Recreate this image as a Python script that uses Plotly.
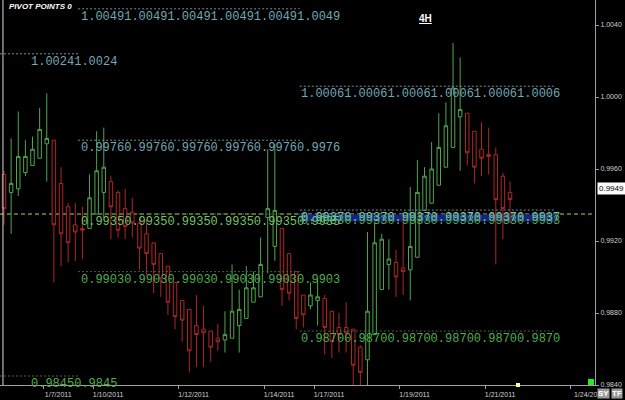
import plotly.graph_objects as go

# ---- 4H candles (EUR/CHF-like) ----
opens = [0.9957, 0.9947, 0.9949, 0.9958, 0.9962, 0.9966, 0.9974, 0.9976, 0.9952, 0.9939,
         0.9929, 0.9927, 0.9927, 0.9935, 0.9947, 0.9953, 0.9947, 0.9938, 0.9936, 0.9930,
         0.9924, 0.9919, 0.9913, 0.9906, 0.9897, 0.9887, 0.9882, 0.9873, 0.9871, 0.9870,
         0.9866, 0.9865, 0.9866, 0.9873, 0.9877, 0.9886, 0.9889, 0.9933, 0.9917, 0.9927,
         0.9913, 0.9903, 0.9890, 0.9884, 0.9887, 0.9888, 0.9881, 0.9872, 0.9872, 0.9871,
         0.9861, 0.9854, 0.9868, 0.9893, 0.9907, 0.9908, 0.9905, 0.9904, 0.9911, 0.9937,
         0.9941, 0.9951, 0.9961, 0.9972, 0.9989, 0.9991, 0.9981, 0.9971, 0.9968, 0.9968,
         0.9956, 0.9947]
highs = [0.9959, 0.9977, 0.9992, 0.9976, 0.9978, 0.9994, 1.0002, 0.9976, 0.9961, 0.9941,
         0.9941, 0.9939, 0.9957, 0.9981, 0.9983, 0.9956, 0.9948, 0.9949, 0.9944, 0.9933,
         0.9932, 0.9919, 0.9913, 0.9906, 0.9897, 0.9887, 0.9882, 0.9890, 0.9884, 0.9870,
         0.9874, 0.9881, 0.9907, 0.9893, 0.9906, 0.9903, 0.9922, 0.9971, 0.9974, 0.9927,
         0.9913, 0.9903, 0.9890, 0.9897, 0.9899, 0.9890, 0.9881, 0.9880, 0.9886, 0.9871,
         0.9862, 0.9925, 0.9930, 0.9924, 0.9921, 0.9915, 0.9932, 0.9950, 0.9965, 0.9961,
         0.9975, 0.9991, 0.9997, 1.0030, 1.0022, 0.9991, 0.9981, 0.9986, 0.9983, 0.9972,
         0.9958, 0.9953]
lows = [0.9929, 0.9924, 0.9945, 0.9956, 0.9962, 0.9966, 0.9953, 0.9897, 0.9906, 0.9908,
        0.9909, 0.9910, 0.9927, 0.9935, 0.9933, 0.9921, 0.9922, 0.9921, 0.9922, 0.9904,
        0.9901, 0.9891, 0.9889, 0.9879, 0.9871, 0.9864, 0.9847, 0.9850, 0.9850, 0.9853,
        0.9859, 0.9858, 0.9866, 0.9858, 0.9877, 0.9886, 0.9889, 0.9902, 0.9909, 0.9884,
        0.9887, 0.9871, 0.9872, 0.9882, 0.9873, 0.9857, 0.9855, 0.9858, 0.9858, 0.9839,
        0.9839, 0.9840, 0.9868, 0.9893, 0.9893, 0.9889, 0.9890, 0.9887, 0.9911, 0.9937,
        0.9941, 0.9951, 0.9961, 0.9972, 0.9959, 0.9962, 0.9952, 0.9956, 0.9957, 0.9907,
        0.9921, 0.9930]
closes = [0.9938, 0.9952, 0.9967, 0.9967, 0.9971, 0.9982, 0.9977, 0.9929, 0.9924, 0.9919,
          0.9925, 0.9926, 0.9944, 0.9959, 0.9961, 0.9939, 0.9926, 0.9928, 0.9930, 0.9916,
          0.9913, 0.9907, 0.9899, 0.9886, 0.9878, 0.9876, 0.9859, 0.9868, 0.9869, 0.9861,
          0.9864, 0.9868, 0.9881, 0.9882, 0.9894, 0.9894, 0.9907, 0.9938, 0.9937, 0.9893,
          0.9891, 0.9877, 0.9879, 0.9890, 0.9889, 0.9872, 0.9864, 0.9868, 0.9869, 0.9851,
          0.9847, 0.9881, 0.9919, 0.9921, 0.9910, 0.9900, 0.9903, 0.9917, 0.9947, 0.9956,
          0.9960, 0.9972, 0.9984, 1.0005, 0.9993, 0.9969, 0.9961, 0.9966, 0.9967, 0.9943,
          0.9938, 0.9943]
bars = list(range(len(opens)))

date_ticks = [5.5, 12.5, 24.5, 36.5, 43.5, 55.5, 67.5, 79.5]
date_labels = ["1/7/2011", "1/10/2011", "1/12/2011", "1/14/2011",
               "1/17/2011", "1/19/2011", "1/21/2011", "1/24/20"]
price_ticks = [0.9840, 0.9880, 0.9920, 0.9960, 1.0000, 1.0040]
current_price = 0.9949

# pivot point segments (start bar, end bar, label start bar, label repeats)
seg_start = [-0.56, 10.4, 41.5]
seg_end = [10.4, 41.5, 77.3]
seg_label_at = [3.65, 10.66, 41.5]
seg_repeats = [2, 6, 6]
# levels per segment: (value, kind)
seg_levels = [
    [(1.0024, "r"), (0.9845, "s")],
    [(1.0049, "r"), (0.9976, "r"), (0.9935, "p"), (0.9903, "s")],
    [(1.0006, "r"), (0.9870, "s")],
]
band_cyan = "0.9937"
band_green = "0.9933"
main_pivot = 0.9935

X0, X1 = -0.561, 82.92
Y0, Y1 = 0.9840, 1.00539

CYAN = "#72a9b8"
GREEN = "#4fae4f"
LIME = "#72c46a"
LABEL_FONT = "Liberation Mono"

fig = go.Figure()
fig.add_trace(go.Candlestick(
    x=bars, open=opens, high=highs, low=lows, close=closes,
    increasing=dict(line=dict(color="#4ea64e", width=1), fillcolor="black"),
    decreasing=dict(line=dict(color="#b02626", width=1), fillcolor="black"),
    whiskerwidth=0, hoverinfo="skip", showlegend=False,
))

shapes = []
annotations = []

# full width main pivot dashed line
shapes.append(dict(type="line", xref="paper", yref="y", x0=0, x1=1,
                   y0=main_pivot, y1=main_pivot,
                   line=dict(color="#b0dc4a", width=1, dash="4px,3px"), layer="below"))

# blue highlight band of the third segment
shapes.append(dict(type="rect", xref="x", yref="y", x0=seg_start[2], x1=seg_end[2] + 0.3,
                   y0=0.99308, y1=0.99348, fillcolor="#17237e", line=dict(width=0),
                   layer="below"))
shapes.append(dict(type="line", xref="x", yref="y", x0=seg_start[2], x1=seg_end[2],
                   y0=0.99372, y1=0.99372, line=dict(color="#7a8a8a", width=1, dash="2px,2px")))
annotations.append(dict(x=seg_label_at[2], y=0.99372, xref="x", yref="y", xanchor="left",
                        yanchor="top", yshift=-1, height=12, borderpad=0,
                        text=band_cyan * 6, showarrow=False,
                        font=dict(family=LABEL_FONT, size=12, color="#7fc0c8")))
annotations.append(dict(x=seg_label_at[2], y=0.99372, xref="x", yref="y", xanchor="left",
                        yanchor="top", yshift=-4, height=12, borderpad=0,
                        text=band_green * 6, showarrow=False,
                        font=dict(family=LABEL_FONT, size=12, color=GREEN)))

for i in range(3):
    for val, kind in seg_levels[i]:
        col = CYAN if kind == "r" else (LIME if kind == "p" else GREEN)
        lcol = "#7c8c8c" if kind == "r" else "#4e5e4e"
        shapes.append(dict(type="line", xref="x", yref="y", x0=seg_start[i], x1=seg_end[i],
                           y0=val, y1=val, line=dict(color=lcol, width=1, dash="2px,2px")))
        txt = ("%.4f" % val) * seg_repeats[i]
        annotations.append(dict(x=seg_label_at[i], y=val, xref="x", yref="y", xanchor="left",
                                yanchor="top", yshift=-1, height=12, borderpad=0,
                                text=txt, showarrow=False,
                                font=dict(family=LABEL_FONT, size=12, color=col)))

# left white border
shapes.append(dict(type="line", xref="paper", yref="paper", x0=0.005, x1=0.005, y0=0, y1=1,
                   line=dict(color="#d8d8d8", width=1)))
# small markers at the bottom
shapes.append(dict(type="rect", xref="paper", yref="paper", x0=588 / 595, x1=594 / 595,
                   y0=0.0, y1=6 / 385, fillcolor="#22ee22", line=dict(width=0)))
shapes.append(dict(type="rect", xref="paper", yref="paper", x0=516 / 595, x1=520 / 595,
                   y0=-2 / 385, y1=2 / 385, fillcolor="#ffff88", line=dict(width=0)))

# texts
annotations.append(dict(x=7 / 595, y=1 - 6 / 385, xref="paper", yref="paper", xanchor="left",
                        yanchor="middle", text="<b><i>PIVOT POINTS 0</i></b>", showarrow=False,
                        font=dict(family="Liberation Sans", size=8, color="white")))
annotations.append(dict(x=425 / 595, y=1 - 18 / 385, xref="paper", yref="paper",
                        xanchor="center", yanchor="middle", text="<b><u>4H</u></b>",
                        showarrow=False,
                        font=dict(family="Liberation Sans", size=10, color="white")))
annotations.append(dict(x=597 / 595, y=current_price, xref="paper", yref="y", xanchor="left",
                        yanchor="middle", text="%.4f" % current_price, showarrow=False,
                        bgcolor="white", borderpad=1,
                        font=dict(family="Liberation Sans", size=8, color="black")))
for lab, px in (("SY", 597), ("TF", 611)):
    annotations.append(dict(x=px / 595, y=-8 / 385, xref="paper", yref="paper",
                            xanchor="left", yanchor="middle", text="<b>%s</b>" % lab,
                            showarrow=False, bgcolor="#9a9a9a", borderpad=0,
                            font=dict(family="Liberation Sans", size=8, color="white")))

fig.update_layout(
    width=625, height=400,
    margin=dict(l=0, r=30, t=0, b=15),
    paper_bgcolor="black", plot_bgcolor="black",
    shapes=shapes, annotations=annotations,
    xaxis=dict(range=[X0, X1], rangeslider=dict(visible=False), showgrid=False,
               zeroline=False, showline=True, linecolor="#a0a0a0", linewidth=1,
               tickmode="array", tickvals=date_ticks, ticktext=date_labels,
               ticks="outside", ticklen=3, tickcolor="#a0a0a0", ticklabelshift=15,
               tickfont=dict(family="Liberation Sans", size=7, color="#d0d0d0"),
               fixedrange=True),
    yaxis=dict(range=[Y0, Y1], side="right", showgrid=False, zeroline=False,
               showline=True, linecolor="#a0a0a0", linewidth=1,
               tickmode="array", tickvals=price_ticks,
               ticktext=["%.4f" % v for v in price_ticks],
               ticks="outside", ticklen=3, tickcolor="#a0a0a0",
               tickfont=dict(family="Liberation Sans", size=7, color="#d0d0d0"),
               fixedrange=True),
)

fig.write_html("out.html")
